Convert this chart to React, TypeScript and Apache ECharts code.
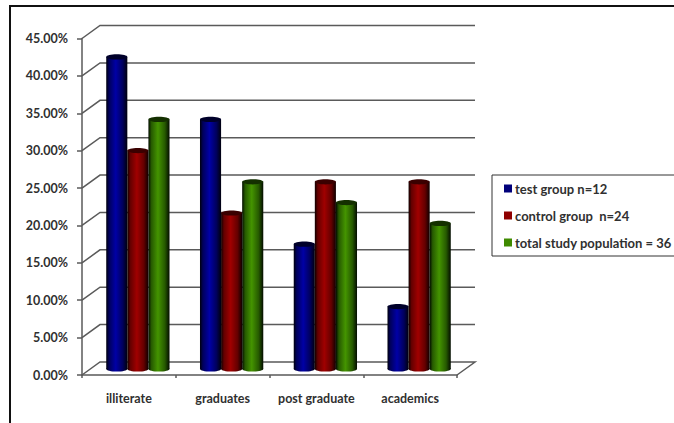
import React, { useEffect, useRef } from "react";
import * as echarts from "echarts";

const categories = ["illiterate", "graduates", "post graduate", "academics"];
const testGroup = [41.67, 33.33, 16.67, 8.33];
const controlGroup = [29.17, 20.83, 25, 25];
const totalPopulation = [33.33, 25, 22.22, 19.44];
const gridValues = [0, 5, 10, 15, 20, 25, 30, 35, 40, 45];

const seriesNames = ["test group n=12", "control group  n=24", "total study population = 36"];
const seriesValues = [testGroup, controlGroup, totalPopulation];
const shades = [
  { legend: "#00007a", edge: "#00000c", mid: "#00005c", light: "#0000a6", cap: "#00002a" },
  { legend: "#8f0000", edge: "#0e0000", mid: "#640000", light: "#a00000", cap: "#3a0000" },
  { legend: "#3f8a00", edge: "#030c00", mid: "#265a00", light: "#449400", cap: "#143000" },
];

const DEPTH_X = 18;
const DEPTH_Y = 13;
const LINE = "#5a5a5a";
const TEXT = "#303030";
const FONT = "Lato, 'Open Sans', sans-serif";

function cylinderFill(i: number) {
  const c = shades[i];
  return new echarts.graphic.LinearGradient(0, 0, 1, 0, [
    { offset: 0, color: c.edge },
    { offset: 0.14, color: c.mid },
    { offset: 0.45, color: c.light },
    { offset: 0.78, color: c.mid },
    { offset: 1, color: c.edge },
  ]);
}

// One cylinder per datum, positioned from the category and value scales.
function renderCylinder(seriesIdx: number) {
  return (_: any, api: any) => {
    const cat = api.value(0);
    const val = api.value(1);
    const band = api.size([1, 0])[0];
    const w = band * 0.225;
    const [cx, top] = api.coord([cat, val]);
    const [, base] = api.coord([cat, 0]);
    const x = cx + (seriesIdx - 1) * w - w / 2;
    const ry = 2.6;
    const fill = cylinderFill(seriesIdx);
    return {
      type: "group",
      children: [
        { type: "ellipse", shape: { cx: x + w / 2, cy: base, rx: w / 2, ry }, style: { fill } },
        { type: "rect", shape: { x, y: top, width: w, height: base - top }, style: { fill } },
        {
          type: "ellipse",
          shape: { cx: x + w / 2, cy: top, rx: w / 2, ry },
          style: { fill: shades[seriesIdx].cap },
        },
      ],
    };
  };
}

// Back-wall gridlines with their slanted run back from the front axis.
function renderWallLine(params: any, api: any) {
  const v = api.value(0);
  const box = params.coordSys;
  const y = api.coord([0, v])[1];
  const points = [
    [box.x, y],
    [box.x + DEPTH_X, y - DEPTH_Y],
    [box.x + box.width + DEPTH_X, y - DEPTH_Y],
  ];
  if (v === 0) points.push([box.x + box.width, y]);
  return {
    type: "polyline",
    shape: { points },
    style: { fill: "none", stroke: LINE, lineWidth: 1.5 },
  };
}

export default function App() {
  const ref = useRef<HTMLDivElement>(null);

  useEffect(() => {
    const chart = echarts.init(ref.current!, null, { renderer: "svg" });
    chart.setOption({
      animation: false,
      backgroundColor: "#fff",
      textStyle: { fontFamily: FONT },
      grid: [
        { left: 82, top: 38.5, width: 375, height: 336.5 },
        { left: 91, top: 32, width: 375, height: 337 },
      ],
      xAxis: [
        {
          type: "category",
          gridIndex: 0,
          data: categories,
          axisLine: { lineStyle: { color: LINE, width: 1.5 } },
          axisTick: { show: true, alignWithLabel: false, length: 3, lineStyle: { color: LINE, width: 1.5 } },
          axisLabel: { interval: 0, color: TEXT, fontSize: 12.5, fontWeight: "bold", margin: 17, fontFamily: FONT },
        },
        { type: "category", gridIndex: 1, data: categories, show: false },
      ],
      yAxis: [
        {
          type: "value",
          gridIndex: 0,
          min: 0,
          max: 45,
          interval: 5,
          axisLine: { show: true, lineStyle: { color: LINE, width: 1.5 } },
          axisTick: { show: true, length: 5, lineStyle: { color: LINE, width: 1.5 } },
          splitLine: { show: false },
          axisLabel: {
            color: TEXT,
            fontSize: 12.5,
            fontWeight: "bold",
            margin: 14,
            fontFamily: FONT,
            formatter: (v: number) => v.toFixed(2) + "%",
          },
        },
        { type: "value", gridIndex: 1, min: 0, max: 45, interval: 5, show: false },
      ],
      legend: {
        orient: "vertical",
        left: 492,
        top: 175,
        data: seriesNames,
        icon: "rect",
        itemWidth: 8,
        itemHeight: 8,
        itemGap: 14,
        padding: [7, 12, 7, 12],
        borderColor: "#333",
        borderWidth: 1,
        selectedMode: false,
        textStyle: { color: TEXT, fontSize: 13, fontWeight: "bold", fontFamily: FONT, padding: [0, 0, 0, -2] },
      },
      graphic: [
        { type: "line", shape: { x1: 10, y1: 6, x2: 674, y2: 6 }, style: { stroke: "#111", lineWidth: 2 } },
        { type: "line", shape: { x1: 10, y1: 5, x2: 10, y2: 423 }, style: { stroke: "#111", lineWidth: 2 } },
      ],
      series: [
        {
          type: "custom",
          silent: true,
          xAxisIndex: 0,
          yAxisIndex: 0,
          z: 1,
          clip: false,
          encode: { y: 0 },
          data: gridValues.map((v) => [v]),
          renderItem: renderWallLine,
        },
        ...seriesNames.map((name, i) => ({
          type: "custom",
          name,
          xAxisIndex: 1,
          yAxisIndex: 1,
          z: 3,
          clip: false,
          itemStyle: { color: shades[i].legend },
          encode: { x: 0, y: 1 },
          data: seriesValues[i].map((v, k) => [k, v]),
          renderItem: renderCylinder(i),
        })),
      ],
    });
    return () => chart.dispose();
  }, []);

  return <div ref={ref} style={{ position: "absolute", left: 0, top: 0, width: 674, height: 423 }} />;
}
